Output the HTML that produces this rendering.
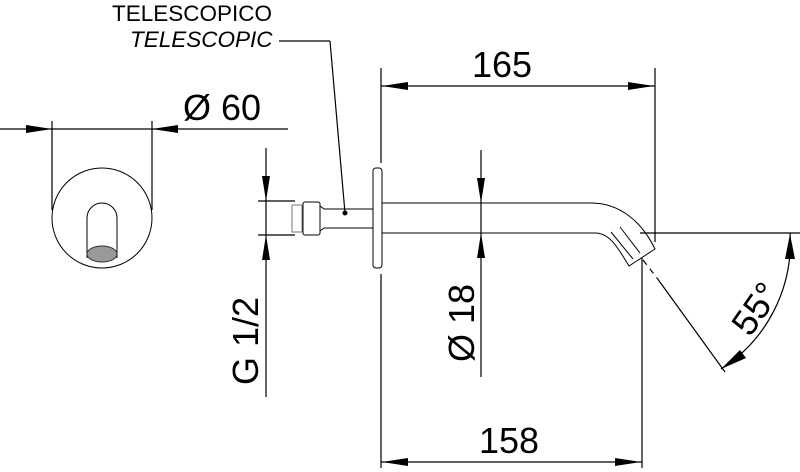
<!DOCTYPE html>
<html><head><style>
html,body{margin:0;padding:0;background:#fff;}
svg{display:block;}
text{font-family:"Liberation Sans",sans-serif;fill:#000;}
</style></head><body>
<svg width="800" height="472" viewBox="0 0 800 472" xmlns="http://www.w3.org/2000/svg">
<g stroke="#000" stroke-width="1.2" fill="none">
<line x1="0" y1="129" x2="288" y2="129"/>
<line x1="52" y1="121" x2="52" y2="210"/>
<line x1="152" y1="121" x2="152" y2="210"/>
<circle cx="102" cy="218" r="50" stroke-width="1"/>
<path d="M87 258 V218 A15 15 0 0 1 117 218 V258" stroke-width="1"/>
<line x1="279" y1="41" x2="330" y2="41"/>
<line x1="330" y1="41" x2="345" y2="213"/>
<line x1="258" y1="201" x2="295" y2="201"/>
<line x1="258" y1="235" x2="295" y2="235"/>
<line x1="266" y1="148" x2="266" y2="397"/>
<rect x="292" y="205" width="10" height="27" stroke="#777" stroke-width="1"/>
<rect x="303" y="202" width="17" height="33" rx="2" stroke-width="1"/>
<path d="M320 206 L324 209 H373 M320 231 L324 228 H373" stroke-width="1"/>
<rect x="373" y="168" width="9" height="100" rx="3" stroke-width="1"/>
<path d="M382 203 H591 C620 203 642 222 655 249 L629 266 C618 248 610 233 595 233 H382" stroke-width="1"/>
<line x1="620" y1="227" x2="640" y2="253" stroke-width="1"/>
<line x1="611" y1="232" x2="633" y2="259" stroke-width="1"/>
<line x1="381" y1="68" x2="381" y2="163"/>
<line x1="655" y1="68" x2="655" y2="242"/>
<line x1="381" y1="86" x2="655" y2="86"/>
<line x1="381" y1="274" x2="381" y2="468"/>
<line x1="642" y1="258" x2="642" y2="468"/>
<line x1="381" y1="462" x2="642" y2="462"/>
<line x1="481" y1="150" x2="481" y2="377"/>
<line x1="640" y1="233" x2="800" y2="233"/>
<line x1="643" y1="260" x2="657" y2="278" stroke-dasharray="6,5"/>
<line x1="657" y1="278" x2="725" y2="372"/>
<path d="M790 233 A150 150 0 0 1 721 369"/>
</g>
<g fill="#000">
<polygon points="52,129 26,125 26,133"/>
<polygon points="152,129 178,125 178,133"/>
<polygon points="266,201 262,176 270,176"/>
<polygon points="266,235 262,260 270,260"/>
<polygon points="481,203 477,178 485,178"/>
<polygon points="481,233 477,258 485,258"/>
<polygon points="382,86 408,82 408,90"/>
<polygon points="654,86 628,82 628,90"/>
<polygon points="382,462 408,458 408,466"/>
<polygon points="641,462 615,458 615,466"/>
<polygon points="790,234 785,259 795,259"/>
<polygon points="721,369 740,350 746,358"/>
<circle cx="345" cy="213" r="2.5"/>
<ellipse cx="102" cy="254" rx="15" ry="8" fill="#999" stroke="#333" stroke-width="1"/>
</g>
<text x="112" y="21" font-size="22.5">TELESCOPICO</text>
<text x="130" y="47" font-size="22.5" font-style="italic">TELESCOPIC</text>
<text x="183" y="120" font-size="36">Ø 60</text>
<text x="472" y="77" font-size="36">165</text>
<text x="479" y="453" font-size="36">158</text>
<text transform="translate(258,385) rotate(-90)" font-size="36">G 1/2</text>
<text transform="translate(474,362) rotate(-90)" font-size="36">Ø 18</text>
<text transform="translate(750,338) rotate(-55)" font-size="36">55°</text>
</svg>
</body></html>
